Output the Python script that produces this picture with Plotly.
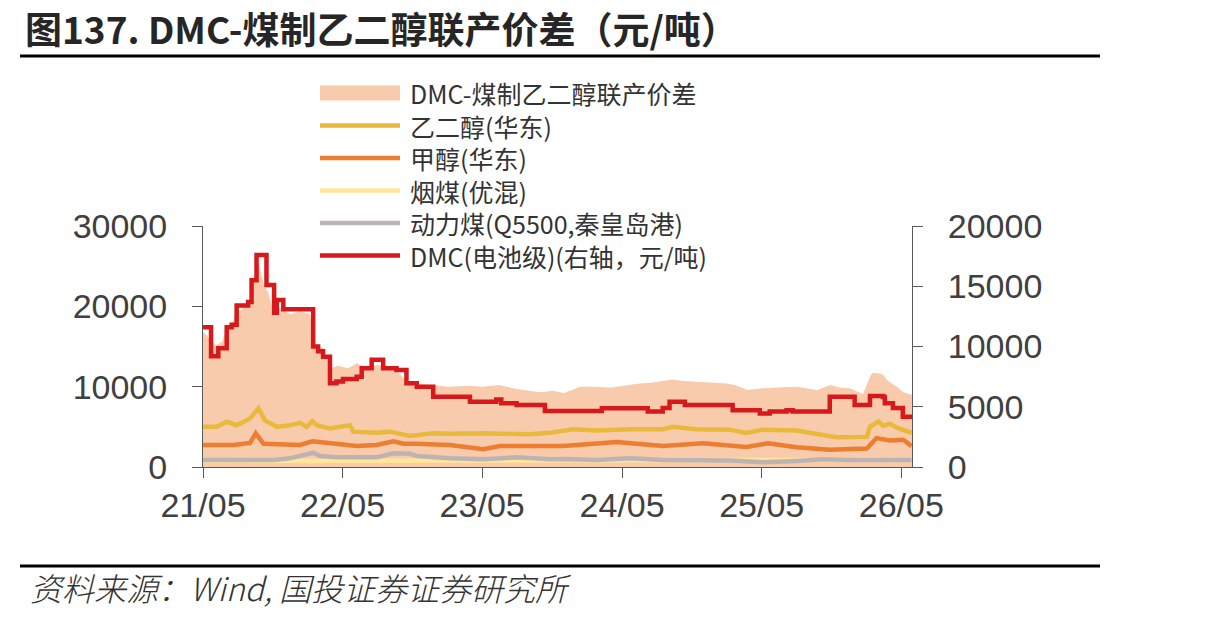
import plotly.graph_objects as go

# ---------------- data ----------------
spread_dates = ["2021-05-01","2021-05-10","2021-05-20","2021-06-05","2021-06-20","2021-07-02","2021-07-15",
                "2021-07-28","2021-08-10","2021-08-25","2021-09-05","2021-09-12","2021-09-20","2021-09-28",
                "2021-10-08","2021-10-18","2021-10-31","2021-11-18","2021-12-15","2022-01-10","2022-02-05",
                "2022-02-13","2022-03-01","2022-03-11","2022-03-29","2022-04-20","2022-05-15","2022-06-07",
                "2022-07-01","2022-08-01","2022-09-01","2022-09-19","2022-10-20","2022-11-20","2022-12-24",
                "2023-02-01","2023-03-30","2023-05-01","2023-06-15","2023-07-30","2023-09-01","2023-10-01",
                "2023-11-01","2023-12-01","2024-01-12","2024-02-20","2024-04-01","2024-05-01","2024-06-16",
                "2024-07-15","2024-08-20","2024-09-11","2024-10-10","2024-11-13","2024-12-10","2025-01-30",
                "2025-02-20","2025-03-24","2025-04-15","2025-05-04","2025-06-10","2025-08-01","2025-08-25",
                "2025-09-23","2025-10-27","2025-11-20","2025-12-18","2026-01-21","2026-02-08","2026-02-14",
                "2026-02-27","2026-03-14","2026-03-25","2026-04-09","2026-04-25","2026-05-05","2026-05-29"]
spread_vals = [16800,16400,15800,15200,15600,17300,17800,
               19200,19600,20500,21200,23500,26000,24500,
               22500,21800,19500,19800,19000,19400,19000,
               15600,15000,14800,12300,12600,12300,12900,
               12400,12700,12200,12000,10500,10300,10200,
               10000,10100,10000,10200,9700,9500,9300,
               9500,9200,10000,10000,9900,10100,10400,
               10500,10700,10900,10700,10600,10500,10400,
               10200,9600,9700,9800,9900,10000,9800,
               9600,10200,9900,9800,9100,11200,11700,
               11700,11500,10800,10300,9800,9300,9000]

meg_dates = ["2021-05-01","2021-06-06","2021-07-02","2021-07-28","2021-09-01","2021-09-23","2021-10-10",
             "2021-11-10","2021-12-14","2022-01-10","2022-01-27","2022-02-11","2022-02-22","2022-03-29",
             "2022-05-20","2022-05-29","2022-07-29","2022-09-02","2022-10-24","2022-12-24","2023-02-06",
             "2023-05-04","2023-07-30","2023-09-03","2023-10-25","2023-12-24","2024-02-24","2024-05-21",
             "2024-08-16","2024-09-11","2024-11-11","2025-02-06","2025-03-22","2025-05-04","2025-07-31",
             "2025-09-12","2025-11-12","2026-01-31","2026-02-08","2026-03-02","2026-03-15","2026-04-01",
             "2026-04-19","2026-05-28"]
meg_vals = [5000,5000,5650,5200,6050,7300,5800,
            5000,5200,5500,5000,5700,5200,4800,
            5200,4400,4250,4400,3850,4200,4150,
            4200,4100,4070,4250,4700,4550,4700,
            4700,5000,4700,4650,4250,4650,4550,
            4250,3700,3750,5000,5650,5100,5400,
            4900,4250]

meoh_dates = ["2021-05-01","2021-07-19","2021-09-01","2021-09-16","2021-10-06","2021-11-27","2022-01-10",
              "2022-02-11","2022-04-07","2022-06-07","2022-07-29","2022-09-11","2022-10-07","2022-11-11",
              "2023-02-06","2023-05-04","2023-06-16","2023-10-25","2023-11-29","2024-04-17","2024-08-16",
              "2024-11-28","2025-03-22","2025-05-18","2025-07-31","2025-10-26","2026-01-31","2026-02-25",
              "2026-04-01","2026-05-06","2026-05-28"]
meoh_vals = [2740,2740,3000,4200,2900,2800,2750,
             3200,2950,2600,2750,3200,2900,2900,
             2750,2200,2600,2600,2600,3100,2600,
             2950,2500,2950,2450,2150,2300,3600,
             3300,3400,2600]

coal_dates = ["2021-05-01","2021-10-01","2022-02-10","2022-05-01","2022-09-01","2023-01-01","2023-06-01",
              "2024-01-01","2024-06-01","2025-01-01","2025-03-01","2025-08-01","2025-10-01","2026-01-01",
              "2026-05-28"]
coal_vals = [800,700,750,780,800,800,850,
             850,850,850,920,900,950,900,
             870]

thermal_dates = ["2021-05-01","2021-11-01","2021-12-14","2022-02-13","2022-03-03","2022-04-15","2022-07-29",
                 "2022-09-11","2022-10-24","2022-11-11","2023-02-06","2023-05-04","2023-07-30","2023-10-25",
                 "2023-11-29","2024-02-24","2024-05-21","2024-08-16","2025-02-09","2025-05-04","2025-07-31",
                 "2025-10-07","2025-12-26","2026-05-28"]
thermal_vals = [870,870,1080,1780,1370,1200,1200,
                1700,1650,1370,1080,950,1200,950,
                1000,870,1080,870,800,580,750,
                950,870,870]

dmc_dates = ["2021-05-01","2021-05-22","2021-06-10","2021-07-02","2021-07-15","2021-07-28","2021-08-27",
             "2021-09-05","2021-09-18","2021-10-14","2021-11-03","2021-11-10","2021-11-27","2022-02-13",
             "2022-02-26","2022-03-11","2022-03-29","2022-04-15","2022-05-02","2022-06-07","2022-06-20",
             "2022-07-16","2022-08-15","2022-09-19","2022-10-15","2022-11-11","2022-12-24","2023-03-30",
             "2023-06-07","2023-06-20","2023-07-30","2023-10-12","2024-03-09","2024-07-07","2024-08-15",
             "2024-09-02","2024-10-12","2025-02-14","2025-04-26","2025-05-22","2025-07-05","2025-07-21",
             "2025-10-26","2025-12-30","2026-02-08","2026-03-14","2026-03-19","2026-04-09","2026-05-05",
             "2026-05-29"]
dmc_vals = [11600,9200,9850,11600,11800,13400,13700,
            15500,17600,15100,12800,13850,13100,10000,
            9600,9150,6950,7100,7300,7500,8200,
            8900,8200,8050,6950,6670,5830,5420,
            5600,5300,5150,4650,4870,4600,4900,
            5420,5150,4700,4450,4600,4700,4600,
            5830,5150,5900,5800,5300,4900,4170,
            4170]

x_tickvals = ["2021-05-01","2022-05-01","2023-05-01","2024-05-01","2025-05-01","2026-05-01"]
x_ticktext = ["21/05","22/05","23/05","24/05","25/05","26/05"]
y1_ticks = [0, 10000, 20000, 30000]
y1_ticktext = ["0", "10000", "20000", "30000"]
y2_ticks = [0, 5000, 10000, 15000, 20000]
y2_ticktext = ["0", "5000", "10000", "15000", "20000"]

legend_names = ["DMC-煤制乙二醇联产价差", "乙二醇(华东)", "甲醇(华东)", "烟煤(优混)",
                "动力煤(Q5500,秦皇岛港)", "DMC(电池级)(右轴，元/吨)"]

# ---------------- style ----------------
C_AREA = "#F8CBAD"
C_MEG = "#E9B93B"
C_MEOH = "#ED7D31"
C_COAL = "#FFE699"
C_THERM = "#BDB3B3"
C_DMC = "#D7191C"
TXT = "#404040"
AX = "#595959"
LW = 4.5

W, H = 1213, 619
PL, PR, PT, PB = 203, 912, 226, 467


def px_x(px):
    return (px - PL) / (PR - PL)


def px_y(py):
    return (PB - py) / (PB - PT)


fig = go.Figure()
fig.add_trace(go.Scatter(x=spread_dates, y=spread_vals, name=legend_names[0], fill="tozeroy",
                         fillcolor=C_AREA, mode="lines", line=dict(width=0, color=C_AREA), yaxis="y"))
fig.add_trace(go.Scatter(x=meg_dates, y=meg_vals, name=legend_names[1], mode="lines",
                         line=dict(width=LW, color=C_MEG), yaxis="y"))
fig.add_trace(go.Scatter(x=meoh_dates, y=meoh_vals, name=legend_names[2], mode="lines",
                         line=dict(width=LW, color=C_MEOH), yaxis="y"))
fig.add_trace(go.Scatter(x=coal_dates, y=coal_vals, name=legend_names[3], mode="lines",
                         line=dict(width=LW, color=C_COAL), yaxis="y"))
fig.add_trace(go.Scatter(x=thermal_dates, y=thermal_vals, name=legend_names[4], mode="lines",
                         line=dict(width=LW, color=C_THERM), yaxis="y"))
fig.add_trace(go.Scatter(x=dmc_dates, y=dmc_vals, name=legend_names[5], mode="lines",
                         line=dict(width=LW, color=C_DMC, shape="hv"), yaxis="y2"))

tickfont = dict(family="Liberation Sans, Arial, sans-serif", size=34, color=TXT)
fig.update_layout(
    width=W, height=H,
    margin=dict(l=PL, r=W - PR, t=PT, b=H - PB, pad=0),
    paper_bgcolor="white", plot_bgcolor="white",
    showlegend=False,
    xaxis=dict(type="date", range=["2021-05-01", "2026-05-29"], tickvals=x_tickvals, ticktext=x_ticktext,
               ticks="outside", ticklen=10, tickcolor=AX, tickwidth=1, showline=True, linecolor=AX,
               linewidth=1, showgrid=False, zeroline=False, tickfont=tickfont, ticklabelstandoff=-2),
    yaxis=dict(range=[0, 30000], tickvals=y1_ticks, ticktext=y1_ticktext, ticks="outside", ticklen=10,
               tickcolor=AX, showline=True, linecolor=AX, linewidth=1, showgrid=False, zeroline=False,
               tickfont=tickfont, ticklabelstandoff=18),
    yaxis2=dict(range=[0, 20000], tickvals=y2_ticks, ticktext=y2_ticktext, overlaying="y", side="right",
                ticks="outside", ticklen=10, tickcolor=AX, showline=True, linecolor=AX, linewidth=1,
                showgrid=False, zeroline=False, tickfont=tickfont, ticklabelstandoff=18),
    title=dict(text="<b>图137. DMC-煤制乙二醇联产价差（元/吨）</b>", x=25 / W, xanchor="left",
               y=1 - 31 / H, yanchor="middle", xref="container", yref="container",
               font=dict(family="Noto Sans CJK SC", size=37, color="#262626")),
)

shapes = []
annotations = []
# header & footer rules
shapes.append(dict(type="line", xref="paper", yref="paper", x0=px_x(20), x1=px_x(1100),
                   y0=px_y(56), y1=px_y(56), line=dict(color="black", width=3)))
shapes.append(dict(type="line", xref="paper", yref="paper", x0=px_x(20), x1=px_x(1100),
                   y0=px_y(566), y1=px_y(566), line=dict(color="black", width=3)))
annotations.append(dict(text="<i>资料来源：Wind, 国投证券证券研究所</i>", xref="paper", yref="paper",
                        x=px_x(28), y=px_y(587), xanchor="left", yanchor="middle", showarrow=False,
                        font=dict(family="Noto Sans CJK SC", size=32, color="#333333", weight=300)))

# custom legend: symbols as shapes, labels as one multi-line text block
rows = [93, 125.5, 158, 190.5, 223, 255.5]
colors = [C_AREA, C_MEG, C_MEOH, C_COAL, C_THERM, C_DMC]
for i, (col, ry) in enumerate(zip(colors, rows)):
    if i == 0:
        shapes.append(dict(type="rect", xref="paper", yref="paper", x0=px_x(320), x1=px_x(400),
                           y0=px_y(ry + 7.5), y1=px_y(ry - 7.5), fillcolor=col, line=dict(width=0)))
    else:
        shapes.append(dict(type="line", xref="paper", yref="paper", x0=px_x(320), x1=px_x(400),
                           y0=px_y(ry), y1=px_y(ry), line=dict(color=col, width=LW)))
annotations.append(dict(text="<br>".join(legend_names), xref="paper", yref="paper", x=px_x(408),
                        y=px_y((rows[0] + rows[-1]) / 2), xanchor="left", yanchor="middle", align="left",
                        showarrow=False, font=dict(family="Noto Sans CJK SC", size=25, color="#333333")))

fig.update_layout(shapes=shapes, annotations=annotations)
fig.write_html("out.html")
